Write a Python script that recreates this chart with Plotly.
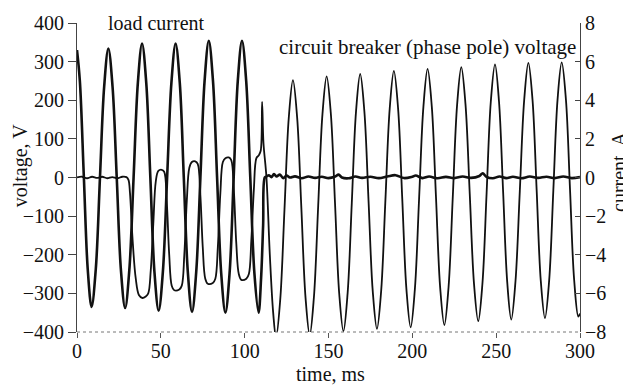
import plotly.graph_objects as go

# ---- data ----
# load current (A), right axis
cur_t = [0, 1.7, 4.1, 6.4, 8.7, 11.2, 13.7, 16.2, 18.7, 21.2, 23.7, 26.2, 28.7,
         31.2, 33.75, 36.3, 38.8, 41.3, 43.75, 46.2, 48.7, 51.2, 53.75, 56.3, 58.8,
         61.3, 63.7, 66.1, 68.6, 71.1, 73.6, 76.1, 78.6, 81.1, 83.55, 86.0, 88.5,
         91.0, 93.45, 95.9, 98.4, 100.9, 103.35, 105.8, 108.3, 109.8, 111.0, 112.0,
         113, 114.5, 116, 117.5, 119, 121, 123, 125, 127, 130, 134, 138, 142, 146,
         150, 154, 156, 158, 162, 166, 170, 175, 180, 185, 190, 195, 200, 202, 206,
         210, 215, 220, 225, 230, 235, 240, 242, 244, 248, 252, 256, 260, 265, 270,
         275, 280, 285, 290, 295, 300]
cur_a = [6.6, 5.0, 0, -4.75, -6.7, -4.75, 0, 4.7, 6.68, 4.7, 0, -4.8, -6.76,
         -4.8, 0, 4.9, 6.94, 4.9, 0, -4.9, -6.9, -4.9, 0, 4.9, 6.94,
         4.9, 0, -4.9, -6.96, -4.9, 0, 5.0, 7.08, 5.0, 0, -4.95, -7.0,
         -4.95, 0, 5.0, 7.08, 5.0, 0, -4.95, -7.0, -5.2, -2.5, 0,
         0.05, 0.12, 0.02, 0.18, 0.05, 0.15, -0.03, 0.1, 0.0, 0.06, -0.04, 0.05, -0.02, 0.04,
         -0.03, 0.05, 0.15, 0.0, -0.04, 0.05, -0.02, 0.04, -0.03, 0.05, 0.12, -0.03, 0.04, 0.1, -0.03,
         0.05, -0.04, 0.03, -0.03, 0.05, -0.02, 0.08, 0.22, 0.05, -0.04, 0.05, -0.03, 0.04, -0.04, 0.05,
         -0.02, 0.04, -0.03, 0.05, -0.03, 0.02]

# circuit breaker (phase pole) voltage (V), left axis
volt_t = [0, 3, 6, 9, 12, 15, 18, 21, 24, 27, 29.5, 30.7, 31.6, 33, 35, 37, 39, 41, 42.5,
          44, 45.5, 47, 48.5, 50.5, 52, 53.5, 55, 56.5, 58, 61, 62.5,
          64, 65.5, 67, 68.5, 70.5, 72, 73.5, 75, 76.5, 78, 81, 82.5,
          84, 85.5, 87, 88.5, 90.5, 92, 93.5, 95, 96.5, 98, 101, 102.5,
          104, 105.5, 107, 108.5, 109.6, 110.4, 111.2, 113, 115, 117, 118.7,
          121.2, 123.75, 126.3, 128.8, 131.3, 133.8, 136.3, 138.8,
          141.3, 143.85, 146.4, 148.9, 151.4, 153.9, 156.4, 158.9,
          161.4, 163.9, 166.4, 168.9, 171.4, 173.9, 176.4, 178.9,
          181.4, 183.95, 186.5, 189.0, 191.5, 194.0, 196.5, 199.0,
          201.5, 204.05, 206.6, 209.1, 211.6, 214.1, 216.6, 219.1,
          221.6, 224.15, 226.7, 229.2, 231.7, 234.25, 236.8, 239.3,
          241.8, 244.3, 246.8, 249.3, 251.7, 254.15, 256.6, 259.0,
          261.5, 264.1, 266.7, 269.2, 271.7, 274.15, 276.6, 279.1,
          281.6, 284.1, 286.6, 289.1, 291.6, 294.05, 296.5, 299.0, 300]
volt_v = [0, 2, -2, 2, -1, 2, -2, 1, -2, 2, 1, -6, -40, -150, -260, -305, -312, -308, -300,
          -240, -120, -10, 17, 20, 15, -60, -200, -280, -292, -290, -280,
          -200, -60, 25, 40, 42, 35, -40, -180, -262, -275, -273, -262,
          -180, -40, 40, 50, 52, 45, -30, -170, -250, -265, -262, -250,
          -160, -30, 50, 58, 70, 196, 90, 0, -200, -350, -415,
          -317, -82, 154, 252, 155, -78, -311, -408,
          -310, -73, 164, 262, 165, -68, -301, -398,
          -300, -65, 170, 268, 171, -62, -295, -392,
          -294, -58, 178, 276, 179, -56, -291, -388,
          -290, -53, 183, 281, 184, -50, -285, -382,
          -284, -48, 188, 286, 190, -43, -276, -372,
          -275, -40, 196, 293, 196, -37, -271, -368,
          -270, -35, 200, 297, 200, -33, -267, -364,
          -267, -33, 201, 298, 202, -31, -264, -360, -352]

x_ticks = [0, 50, 100, 150, 200, 250, 300]
v_ticks = [-400, -300, -200, -100, 0, 100, 200, 300, 400]
a_ticks = [-8, -6, -4, -2, 0, 2, 4, 6, 8]

FONT = "Liberation Serif, Times New Roman, serif"
INK = "#111111"

fig = go.Figure()
fig.add_trace(go.Scatter(x=volt_t, y=volt_v, mode="lines", yaxis="y",
                         line=dict(color=INK, width=1.8, shape="spline", smoothing=1),
                         showlegend=False, hoverinfo="skip"))
fig.add_trace(go.Scatter(x=cur_t, y=cur_a, mode="lines", yaxis="y2",
                         line=dict(color=INK, width=2.6, shape="spline", smoothing=1),
                         showlegend=False, hoverinfo="skip"))

fig.update_layout(
    width=623, height=387,
    margin=dict(l=77, r=43, t=23, b=55, pad=0),
    paper_bgcolor="white", plot_bgcolor="white",
    font=dict(family=FONT, size=20, color=INK),
    xaxis=dict(range=[0, 300], tickvals=x_ticks, ticks="outside", ticklen=5,
               tickcolor="#555", showline=False, showgrid=False, zeroline=False,
               tickfont=dict(size=20), ticklabelstandoff=-4),
    yaxis=dict(range=[-400, 400], tickvals=v_ticks, ticks="outside", ticklen=8,
               tickcolor="#444", showline=True, linecolor="#444", linewidth=1,
               showgrid=False, zeroline=False, tickfont=dict(size=20)),
    yaxis2=dict(range=[-8, 8], tickvals=a_ticks, overlaying="y", side="right",
                ticks="inside", ticklen=5, tickcolor="#444", showline=True,
                linecolor="#444", linewidth=1, showgrid=False, zeroline=False,
                tickfont=dict(size=20)),
    shapes=[dict(type="line", xref="paper", yref="paper", x0=0, x1=1, y0=0, y1=0,
                 line=dict(color="#777", width=1, dash="dot"), layer="above")],
    annotations=[
        dict(text="load current", xref="paper", yref="paper", x=0.057, y=1.0,
             xanchor="left", yanchor="middle", showarrow=False, font=dict(size=20)),
        dict(text="circuit breaker (phase pole) voltage", xref="paper", yref="paper",
             x=0.397, y=0.922, xanchor="left", yanchor="middle", showarrow=False,
             font=dict(size=21)),
        dict(text="voltage, V", xref="paper", yref="paper", x=-0.113, y=0.54,
             xanchor="center", yanchor="middle", textangle=-90, showarrow=False,
             font=dict(size=20)),
        dict(text="current, A", xref="paper", yref="paper", x=1.0775, y=0.521,
             xanchor="center", yanchor="middle", textangle=-90, showarrow=False,
             font=dict(size=20)),
        dict(text="time, ms", xref="paper", yref="paper", x=0.503, y=-0.137,
             xanchor="center", yanchor="middle", showarrow=False, font=dict(size=20)),
    ],
)

fig.write_html("out.html")
